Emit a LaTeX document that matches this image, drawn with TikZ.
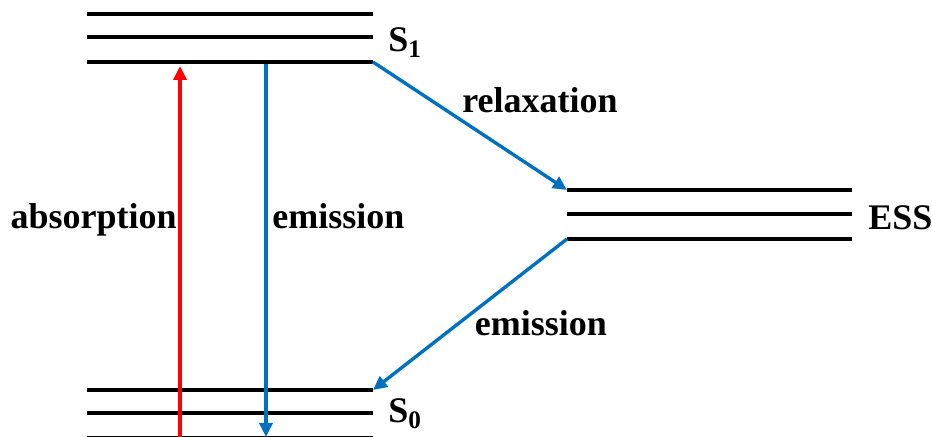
\documentclass[tikz,border=0pt]{standalone}
\usepackage{fontspec}
\setmainfont{Liberation Serif}
\usetikzlibrary{arrows.meta,positioning}
\definecolor{emblue}{RGB}{0,112,192}
\tikzset{
  level/.style ={line width=2pt,black},
  lbl/.style   ={font=\fontsize{18}{20}\selectfont\bfseries,inner sep=0pt},
  absarr/.style={-{Triangle[length=7pt,width=6.5pt]},line width=1.7pt,red},
  emarr/.style ={-{Triangle[length=7pt,width=6.5pt]},line width=1.7pt,emblue},
}

\begin{document}
\begin{tikzpicture}[x=0.5pt,y=-0.5pt]
  \clip (0,0) rectangle (932,437);
  % three sublevels for each state
  \foreach \y/\k in {14/a,37/b,62/c}
    \draw[level] (87,\y) coordinate (s1\k L) -- (373,\y) coordinate (s1\k R);
  \foreach \y/\k in {390/a,413/b,438.5/c}
    \draw[level] (87,\y) coordinate (s0\k L) -- (373,\y) coordinate (s0\k R);
  \foreach \y/\k in {190/a,214/b,239/c}
    \draw[level] (567,\y) coordinate (ess\k L) -- (852,\y) coordinate (ess\k R);
  % state labels
  \node[lbl,anchor=base west] (s1) at (388,52) {S\textsubscript{1}};
  \node[lbl,anchor=base west] (s0) at (388,423) {S\textsubscript{0}};
  \node[lbl,anchor=base west] (ess) at (868,230) {ESS};
  % vertical transitions
  \coordinate (absfoot) at (180,437);
  \coordinate (abstop)  at (180,66);
  \coordinate (emtop)   at (266,64);
  \coordinate (emfoot)  at (266,437);
  \draw[absarr] (absfoot) -- (abstop);
  \draw[emarr]  (emtop) -- (emfoot);
  \node[lbl,anchor=base east] (abs) at (177,229) {absorption};
  \node[lbl,anchor=base west] (em)  at (272,229) {emission};
  % via the emissive state
  \draw[emarr] (s1cR) -- (essaL);
  \draw[emarr] (esscL) -- (s0aR);
  \node[lbl,anchor=base] (relax) at (540,113) {relaxation};
  \node[lbl,anchor=base] (em2)   at (541,336) {emission};
\end{tikzpicture}
\end{document}
